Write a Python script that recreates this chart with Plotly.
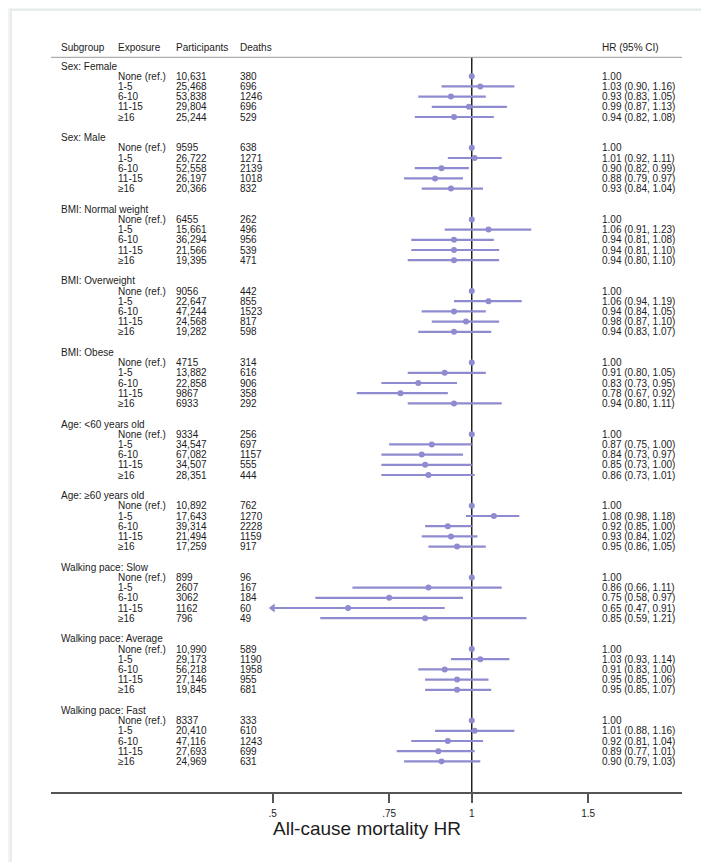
import plotly.graph_objects as go

# ---- data ----
groups = [
    "Sex: Female", "Sex: Male", "BMI: Normal weight", "BMI: Overweight",
    "BMI: Obese", "Age: <60 years old", "Age: \u226560 years old",
    "Walking pace: Slow", "Walking pace: Average", "Walking pace: Fast",
]
exposures = ["None (ref.)", "1-5", "6-10", "11-15", "\u226516"]

participants = [
    ["10,631", "25,468", "53,838", "29,804", "25,244"],
    ["9595", "26,722", "52,558", "26,197", "20,366"],
    ["6455", "15,661", "36,294", "21,566", "19,395"],
    ["9056", "22,647", "47,244", "24,568", "19,282"],
    ["4715", "13,882", "22,858", "9867", "6933"],
    ["9334", "34,547", "67,082", "34,507", "28,351"],
    ["10,892", "17,643", "39,314", "21,494", "17,259"],
    ["899", "2607", "3062", "1162", "796"],
    ["10,990", "29,173", "56,218", "27,146", "19,845"],
    ["8337", "20,410", "47,116", "27,693", "24,969"],
]
deaths = [
    [380, 696, 1246, 696, 529],
    [638, 1271, 2139, 1018, 832],
    [262, 496, 956, 539, 471],
    [442, 855, 1523, 817, 598],
    [314, 616, 906, 358, 292],
    [256, 697, 1157, 555, 444],
    [762, 1270, 2228, 1159, 917],
    [96, 167, 184, 60, 49],
    [589, 1190, 1958, 955, 681],
    [333, 610, 1243, 699, 631],
]
hr = [
    [1.00, 1.03, 0.93, 0.99, 0.94],
    [1.00, 1.01, 0.90, 0.88, 0.93],
    [1.00, 1.06, 0.94, 0.94, 0.94],
    [1.00, 1.06, 0.94, 0.98, 0.94],
    [1.00, 0.91, 0.83, 0.78, 0.94],
    [1.00, 0.87, 0.84, 0.85, 0.86],
    [1.00, 1.08, 0.92, 0.93, 0.95],
    [1.00, 0.86, 0.75, 0.65, 0.85],
    [1.00, 1.03, 0.91, 0.95, 0.95],
    [1.00, 1.01, 0.92, 0.89, 0.90],
]
ci_low = [
    [None, 0.90, 0.83, 0.87, 0.82],
    [None, 0.92, 0.82, 0.79, 0.84],
    [None, 0.91, 0.81, 0.81, 0.80],
    [None, 0.94, 0.84, 0.87, 0.83],
    [None, 0.80, 0.73, 0.67, 0.80],
    [None, 0.75, 0.73, 0.73, 0.73],
    [None, 0.98, 0.85, 0.84, 0.86],
    [None, 0.66, 0.58, 0.47, 0.59],
    [None, 0.93, 0.83, 0.85, 0.85],
    [None, 0.88, 0.81, 0.77, 0.79],
]
ci_high = [
    [None, 1.16, 1.05, 1.13, 1.08],
    [None, 1.11, 0.99, 0.97, 1.04],
    [None, 1.23, 1.08, 1.10, 1.10],
    [None, 1.19, 1.05, 1.10, 1.07],
    [None, 1.05, 0.95, 0.92, 1.11],
    [None, 1.00, 0.97, 1.00, 1.01],
    [None, 1.18, 1.00, 1.02, 1.05],
    [None, 1.11, 0.97, 0.91, 1.21],
    [None, 1.14, 1.00, 1.06, 1.07],
    [None, 1.16, 1.04, 1.01, 1.03],
]
tick_vals = [0.5, 0.75, 1, 1.5]
tick_text = [".5", ".75", "1", "1.5"]
headers = ["Subgroup", "Exposure", "Participants", "Deaths", "HR (95% CI)"]

# ---- layout geometry (pixels) ----
W, H = 709, 862
L, R, T, B = 43, 35, 30, 78
PW = W - L - R
PH = H - T - B
AXIS_Y = H - B
CLIP = 0.5  # CIs below this are drawn with an arrow
FONT = "Liberation Sans, Arial, Helvetica, sans-serif"
PURPLE = "#8f8bd0"
TXT = "#1c1c1c"
col_x = [52, 108.5, 166.5, 231, 592.5]


def px(xpix):
    return (xpix - L) / PW


def row_y(g, i):
    # i = -1 is the group title line
    return 58 + 71.6 * g + 10.2 * (i + 1)


ann = []
for k, h in enumerate(headers):
    ann.append(dict(x=px(col_x[k] - 1), y=39, text=h))

ci_x, ci_y = [], []
mk_x, mk_y = [], []
arrow_y = []
for g, name in enumerate(groups):
    ann.append(dict(x=px(col_x[0] - 1), y=row_y(g, -1), text=name))
    for i, ex in enumerate(exposures):
        y = row_y(g, i)
        lo, hi, est = ci_low[g][i], ci_high[g][i], hr[g][i]
        if lo is None:
            hr_txt = f"{est:.2f}"
        else:
            hr_txt = f"{est:.2f} ({lo:.2f}, {hi:.2f})"
            ci_x += [max(lo, CLIP), hi, None]
            ci_y += [y, y, None]
            if lo < CLIP:
                arrow_y.append(y)
        mk_x.append(est)
        mk_y.append(y)
        row = [ex, participants[g][i], str(deaths[g][i]), hr_txt]
        for k, t in enumerate(row):
            ann.append(dict(x=px(col_x[k + 1] - 1), y=y, text=t))

for a in ann:
    a.update(xref="paper", yref="y", xanchor="left", yanchor="middle",
             showarrow=False, font=dict(family=FONT, size=10, color=TXT))

ann.append(dict(x=0.5, xref="paper", y=-(820 - AXIS_Y) / PH, yref="paper",
                text="All-cause mortality HR", showarrow=False,
                xanchor="center", yanchor="middle",
                font=dict(family=FONT, size=19, color=TXT)))

fig = go.Figure()
# reference line at HR = 1
fig.add_trace(go.Scatter(x=[1, 1], y=[49.3, AXIS_Y], mode="lines",
                         line=dict(color="black", width=1.3),
                         hoverinfo="skip", cliponaxis=False))
fig.add_trace(go.Scatter(x=ci_x, y=ci_y, mode="lines",
                         line=dict(color=PURPLE, width=2.2),
                         hoverinfo="skip"))
fig.add_trace(go.Scatter(x=[CLIP] * len(arrow_y), y=arrow_y, mode="markers",
                         marker=dict(symbol="triangle-left", size=8,
                                     color=PURPLE),
                         hoverinfo="skip", cliponaxis=False))
fig.add_trace(go.Scatter(x=mk_x, y=mk_y, mode="markers",
                         marker=dict(symbol="circle", size=6, color=PURPLE),
                         hovertemplate="HR %{x:.2f}<extra></extra>"))

shapes = [
    # header rule
    dict(type="line", xref="paper", yref="y", x0=0, x1=1, y0=49.3, y1=49.3,
         line=dict(color="#9a9a9a", width=1)),
    # outer frame
    dict(type="rect", xref="paper", yref="paper", layer="below",
         x0=px(3), x1=px(706), y0=-(859 - AXIS_Y) / PH, y1=(AXIS_Y - 2) / PH,
         fillcolor="white", line=dict(color="#e3e8e8", width=1.5)),
]

fig.update_layout(
    width=W, height=H,
    margin=dict(l=L, r=R, t=T, b=B),
    paper_bgcolor="#f1f4f4", plot_bgcolor="white",
    showlegend=False,
    font=dict(family=FONT, size=10, color=TXT),
    annotations=ann,
    shapes=shapes,
    xaxis=dict(type="log", range=[-0.6363, 0.3179],
               tickvals=tick_vals, ticktext=tick_text,
               ticks="outside", ticklen=9, tickwidth=1.5, tickcolor="#555",
               ticklabelstandoff=2,
               showline=True, linecolor="#555", linewidth=1.6,
               showgrid=False, zeroline=False,
               tickfont=dict(family=FONT, size=10, color=TXT)),
    yaxis=dict(range=[AXIS_Y, T], visible=False, showgrid=False,
               zeroline=False),
)

fig.write_html("out.html")
